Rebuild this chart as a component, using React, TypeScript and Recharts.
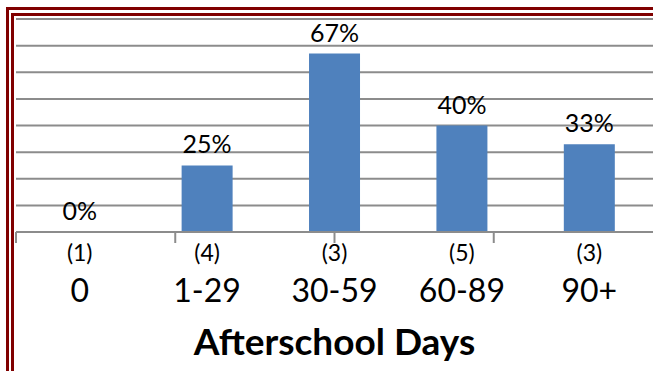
import React from "react";
import { BarChart, Bar, XAxis, YAxis, CartesianGrid, LabelList, Label } from "recharts";

// Share of students by afterschool attendance band
const categories = ["0", "1-29", "30-59", "60-89", "90+"];
const groupCounts = [1, 4, 3, 5, 3];
const shares = [0, 0.25, 0.67, 0.4, 0.33];
const yTicks = [0, 0.1, 0.2, 0.3, 0.4, 0.5, 0.6, 0.7, 0.8];
const edgeTicks = [0, 1, 2, 3, 4, 5];

const data = categories.map((name, i) => ({ name, count: groupCounts[i], share: shares[i] }));

const W = 653;
const H = 371;
const RED = "#800000";
const GRID = "#8c8c8c";

const CategoryTick = (props: any) => {
  const { x, y, index, payload } = props;
  return (
    <g>
      <text x={x} y={y} dy={28} textAnchor="middle" fontSize={23} fill="#000">
        {`(${groupCounts[index]})`}
      </text>
      <text x={x} y={y} dy={69} textAnchor="middle" fontSize={32} fill="#000">
        {payload.value}
      </text>
    </g>
  );
};

const NoLabel = () => <g />;

const pct = (v: any) => `${Math.round(Number(v) * 100)}%`;

export default function App() {
  return (
    <div
      style={{
        position: "absolute",
        left: 0,
        top: 0,
        width: W,
        height: H,
        background: "#fff",
        overflow: "hidden",
        fontFamily: "Lato, 'Open Sans', sans-serif",
      }}
    >
      {/* double frame along top and left */}
      <div style={{ position: "absolute", left: 6, top: 7, right: 0, height: 3, background: RED }} />
      <div style={{ position: "absolute", left: 6, top: 7, width: 3, bottom: 0, background: RED }} />
      <div style={{ position: "absolute", left: 11, top: 13, right: 0, height: 3, background: RED }} />
      <div style={{ position: "absolute", left: 11, top: 13, width: 3, bottom: 0, background: RED }} />

      <div style={{ position: "absolute", left: 0, top: 0 }}>
        <BarChart
          width={W}
          height={H}
          data={data}
          margin={{ top: 19, right: 0, left: 16, bottom: 0 }}
          barCategoryGap="30%"
        >
          <CartesianGrid vertical={false} stroke={GRID} strokeWidth={2} xAxisId="cat" />
          <YAxis hide domain={[0, 0.8]} ticks={yTicks} />
          <XAxis
            xAxisId={0}
            type="number"
            domain={[0, 5]}
            ticks={edgeTicks}
            height={1}
            tick={NoLabel}
            tickSize={11}
            tickLine={{ stroke: GRID, strokeWidth: 2 }}
            axisLine={{ stroke: GRID, strokeWidth: 2 }}
            allowDataOverflow
          />
          <XAxis
            xAxisId="cat"
            dataKey="name"
            height={138}
            axisLine={false}
            tickLine={false}
            tickSize={0}
            tickMargin={0}
            interval={0}
            tick={<CategoryTick />}
          >
            <Label
              value="Afterschool Days"
              position="insideBottom"
              offset={16}
              fontSize={37}
              fontWeight="bold"
              fill="#000"
            />
          </XAxis>
          <Bar dataKey="share" xAxisId="cat" fill="#4f81bd" minPointSize={0.01} isAnimationActive={false}>
            <LabelList dataKey="share" position="top" offset={12} formatter={pct} fontSize={25} fill="#000" />
          </Bar>
        </BarChart>
      </div>
    </div>
  );
}
